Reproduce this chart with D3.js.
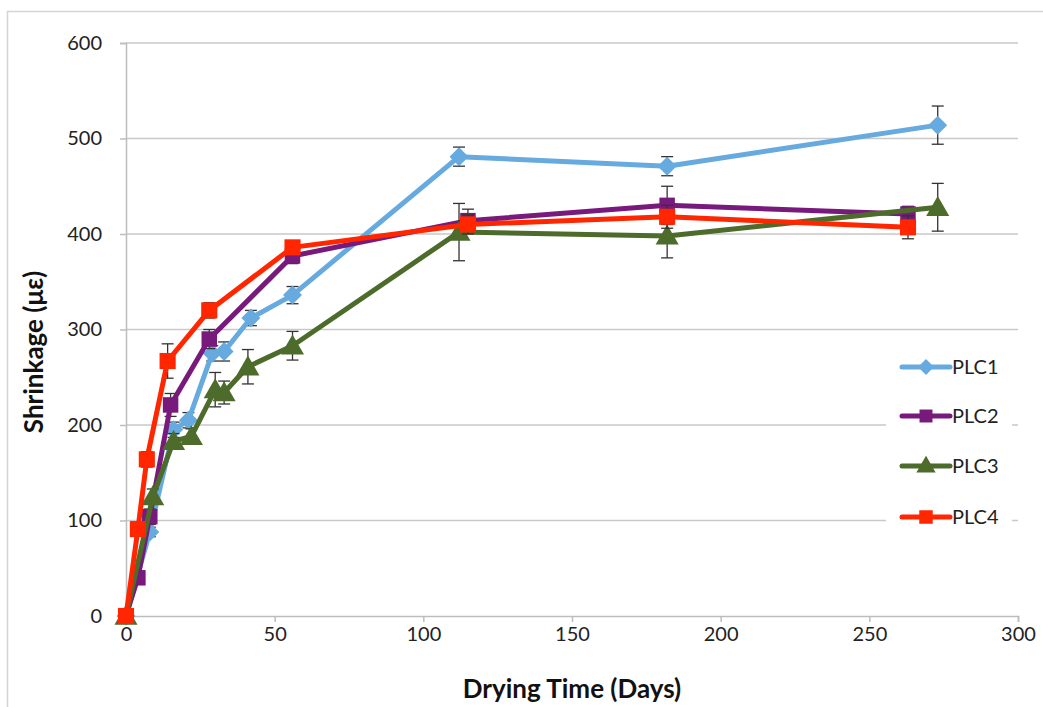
<!DOCTYPE html>
<html><head><meta charset="utf-8">
<script src="https://cdn.jsdelivr.net/npm/d3@7"></script>
<style>body{margin:0;background:#fff;} svg{display:block;font-family:Lato,"Open Sans",sans-serif;}</style>
</head><body>
<svg id="chart" width="1043" height="707"></svg>
<script>
const seriesNames = ["PLC1", "PLC2", "PLC3", "PLC4"];
const plc1Days = [0, 8, 16, 21, 29, 33, 42, 56, 112, 182, 273];
const plc1Vals = [0, 88, 195, 205, 275, 277, 312, 336, 481, 471, 514];
const plc1Err  = [0, 5, 8, 8, 8, 10, 8, 9, 10, 10, 20];
const plc2Days = [0, 4, 8, 15, 28, 56, 115, 182, 263];
const plc2Vals = [0, 40, 104, 221, 290, 377, 414, 430, 421];
const plc2Err  = [0, 3, 8, 12, 10, 8, 12, 20, 8];
const plc3Days = [0, 9, 16, 22, 30, 33, 41, 56, 112, 182, 273];
const plc3Vals = [0, 125, 183, 188, 237, 234, 261, 283, 402, 398, 428];
const plc3Err  = [0, 8, 8, 8, 18, 12, 18, 15, 30, 23, 25];
const plc4Days = [0, 4, 7, 14, 28, 56, 115, 182, 263];
const plc4Vals = [0, 91, 164, 267, 320, 386, 410, 418, 407];
const plc4Err  = [0, 5, 8, 18, 8, 6, 10, 12, 12];
const xTicks = [0, 50, 100, 150, 200, 250, 300];
const yTicks = [0, 100, 200, 300, 400, 500, 600];
const xTitle = "Drying Time (Days)";
const yTitle = "Shrinkage (με)";

const colors = ["#66aadf", "#771a7c", "#4d6b2b", "#ff2600"];
const shapes = [d3.symbolDiamond2, d3.symbolSquare, d3.symbolTriangle, d3.symbolSquare];
const sizes = [230, 240, 230, 260];

const series = [
  {days: plc1Days, vals: plc1Vals, err: plc1Err},
  {days: plc2Days, vals: plc2Vals, err: plc2Err},
  {days: plc3Days, vals: plc3Vals, err: plc3Err},
  {days: plc4Days, vals: plc4Vals, err: plc4Err}
].map((s, i) => ({name: seriesNames[i], color: colors[i], shape: shapes[i], size: sizes[i],
  pts: s.days.map((d, j) => ({x: d, y: s.vals[j], e: s.err[j]}))}));

const svg = d3.select("#chart");
const L = 126, R = 1018, T = 43, B = 616;
const x = d3.scaleLinear().domain([0, 300]).range([L, R]);
const y = d3.scaleLinear().domain([0, 600]).range([B, T]);

// outer frame
svg.append("rect").attr("x", 7.5).attr("y", 11.5).attr("width", 1050).attr("height", 720)
  .attr("fill", "none").attr("stroke", "#d4d4d4").attr("stroke-width", 1.5);

// gridlines
svg.append("g").selectAll("line").data(yTicks.filter(v => v > 0)).join("line")
  .attr("x1", L).attr("x2", R).attr("y1", d => y(d)).attr("y2", d => y(d))
  .attr("stroke", "#c9c9c9").attr("stroke-width", 1.5);

// axes
const yAxis = svg.append("g").attr("transform", `translate(${L},0)`)
  .call(d3.axisLeft(y).tickValues(yTicks).tickSize(6).tickPadding(18));
const xAxis = svg.append("g").attr("transform", `translate(0,${B})`)
  .call(d3.axisBottom(x).tickValues(xTicks).tickSize(6).tickPadding(5));
[yAxis, xAxis].forEach(a => {
  a.select(".domain").attr("stroke", "#bdbdbd").attr("stroke-width", 1.5);
  a.selectAll(".tick line").attr("stroke", "#bdbdbd").attr("stroke-width", 1.5);
  a.selectAll(".tick text").attr("fill", "#222").style("font-size", "20px").style("font-family", "Lato,'Open Sans',sans-serif");
});

// series
series.forEach(s => {
  const g = svg.append("g");
  const eb = g.append("g").attr("stroke", "#333").attr("stroke-width", 1.3);
  s.pts.filter(p => p.e > 0).forEach(p => {
    const cx = x(p.x), y1 = y(p.y + p.e), y2 = y(p.y - p.e);
    eb.append("line").attr("x1", cx).attr("x2", cx).attr("y1", y1).attr("y2", y2);
    eb.append("line").attr("x1", cx - 6).attr("x2", cx + 6).attr("y1", y1).attr("y2", y1);
    eb.append("line").attr("x1", cx - 6).attr("x2", cx + 6).attr("y1", y2).attr("y2", y2);
  });
  g.append("path").datum(s.pts)
    .attr("d", d3.line().x(p => x(p.x)).y(p => y(p.y)))
    .attr("fill", "none").attr("stroke", s.color).attr("stroke-width", 5).attr("stroke-linejoin", "round");
  g.selectAll(".m").data(s.pts).join("path")
    .attr("transform", p => `translate(${x(p.x)},${y(p.y) + (s.shape === d3.symbolTriangle ? 2 : 0)})`)
    .attr("d", d3.symbol().type(s.shape).size(s.size))
    .attr("fill", s.color);
});

// legend
const lg = svg.append("g");
lg.append("rect").attr("x", 886).attr("y", 345).attr("width", 126).attr("height", 195).attr("fill", "#fff");
const legY = [367, 416, 466, 517];
series.forEach((s, i) => {
  const yy = legY[i];
  lg.append("line").attr("x1", 902).attr("x2", 950).attr("y1", yy).attr("y2", yy)
    .attr("stroke", s.color).attr("stroke-width", 5).attr("stroke-linecap", "round");
  lg.append("path").attr("transform", `translate(926,${yy + (s.shape === d3.symbolTriangle ? 1 : 0)})`)
    .attr("d", d3.symbol().type(s.shape).size(s.size * 0.7)).attr("fill", s.color);
  lg.append("text").attr("x", 952).attr("y", yy).attr("dy", "0.36em")
    .style("font-size", "20px").attr("fill", "#222").text(s.name);
});

// axis titles
svg.append("text").attr("x", 572).attr("y", 698).attr("text-anchor", "middle")
  .style("font-size", "26px").style("font-weight", "bold").attr("fill", "#111").text(xTitle);
svg.append("text").attr("transform", "translate(43,352) rotate(-90)").attr("text-anchor", "middle")
  .style("font-size", "26px").style("font-weight", "bold").attr("fill", "#111").text(yTitle);
</script>
</body></html>
